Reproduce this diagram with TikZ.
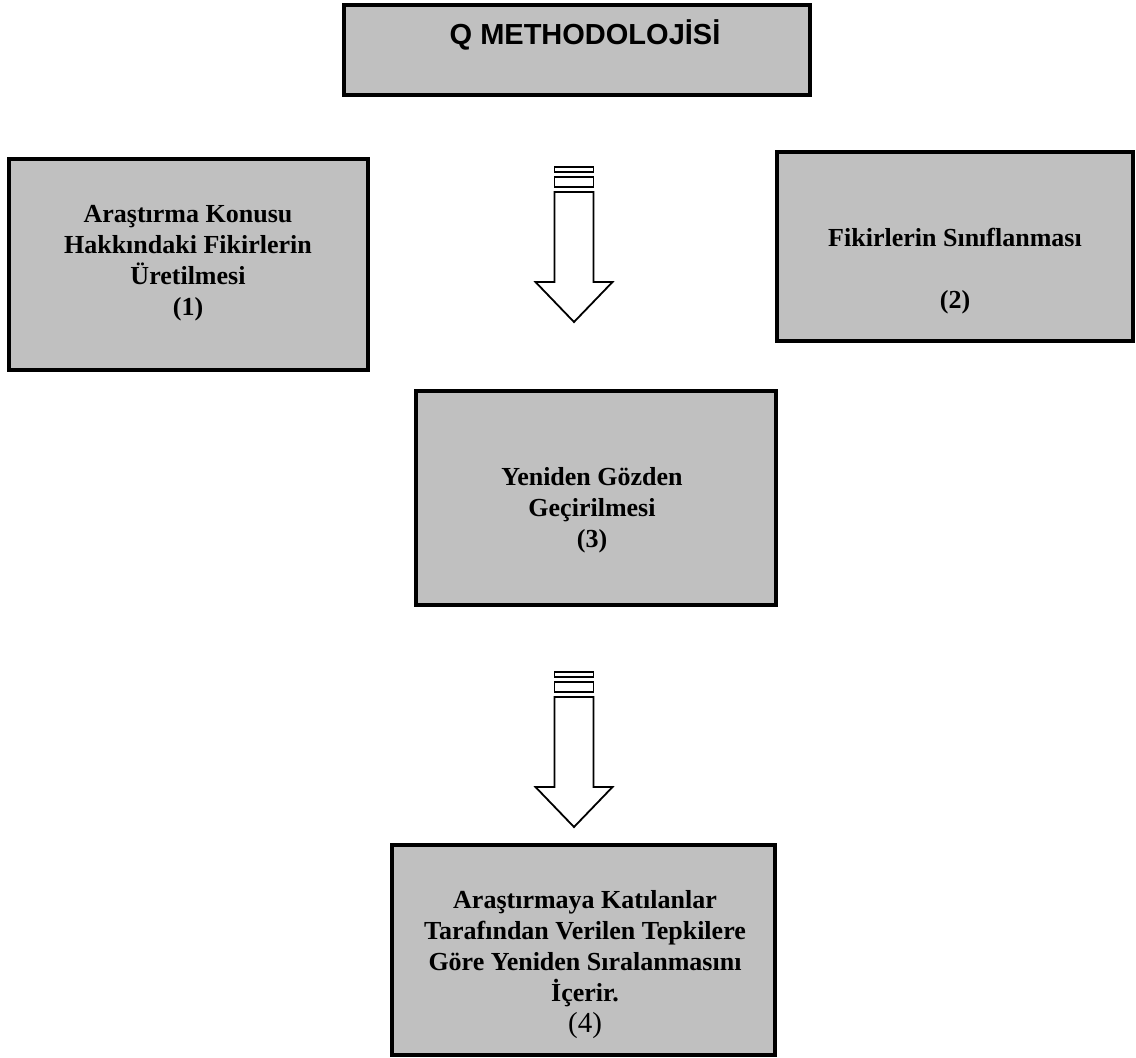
\documentclass[tikz,border=0pt]{standalone}
\usepackage{fontspec}
\setmainfont{Liberation Serif}
\newfontfamily\arialfont{Liberation Sans}
\definecolor{boxgray}{RGB}{192,192,192}

\begin{document}
\begin{tikzpicture}[x=1pt, y=-1pt,
    box/.style={draw, line width=3.6pt, fill=boxgray, inner sep=0pt},
    txt/.style={align=center, font=\bfseries\fontsize{26}{31}\selectfont},
    blockarrow/.pic={
        \draw[line width=1.8pt, fill=white] (-19.5,0) rectangle (19.5,5);
        \draw[line width=1.8pt, fill=white] (-19.5,10) rectangle (19.5,20);
        \draw[line width=1.8pt, fill=white, line join=miter] (-19.5,25) -- (-19.5,115) -- (-38.5,115) -- (0,155)
            -- (38.5,115) -- (19.5,115) -- (19.5,25) -- cycle;
    }]
    \useasboundingbox (0,0) rectangle (1136,1058);
    \node[box, line width=4.4pt, minimum width=466pt, minimum height=90pt] (A) at (577,50) {};
    \node[box, minimum width=359pt, minimum height=211pt] (B) at (188.5,264.5) {};
    \node[box, minimum width=356pt, minimum height=189pt] (C) at (955,246.5) {};
    \node[box, minimum width=360pt, minimum height=214pt] (D) at (596,498) {};
    \node[box, minimum width=383pt, minimum height=210pt] (E) at (583.5,950) {};
    \node[font=\arialfont\bfseries\fontsize{29}{34}\selectfont] (At) at (585,35) {Q METHODOLOJİSİ};
    \node[txt] (Bt) at (188,263) {Araştırma Konusu\\Hakkındaki Fikirlerin\\Üretilmesi\\(1)};
    \node[txt] (Ct) at (955,271.5) {Fikirlerin Sınıflanması\\[31pt](2)};
    \node[txt] (Dt) at (592,510.5) {Yeniden Gözden\\Geçirilmesi\\(3)};
    \node[txt] (Et) at (585,965) {Araştırmaya Katılanlar\\Tarafından Verilen Tepkilere\\Göre Yeniden Sıralanmasını\\İçerir.\\{\mdseries\fontsize{29}{32}\selectfont (4)}};
    \coordinate (P) at (574,167);
    \coordinate (Q) at (574,672);
    \pic at (P) {blockarrow};
    \pic at (Q) {blockarrow};
\end{tikzpicture}
\end{document}
